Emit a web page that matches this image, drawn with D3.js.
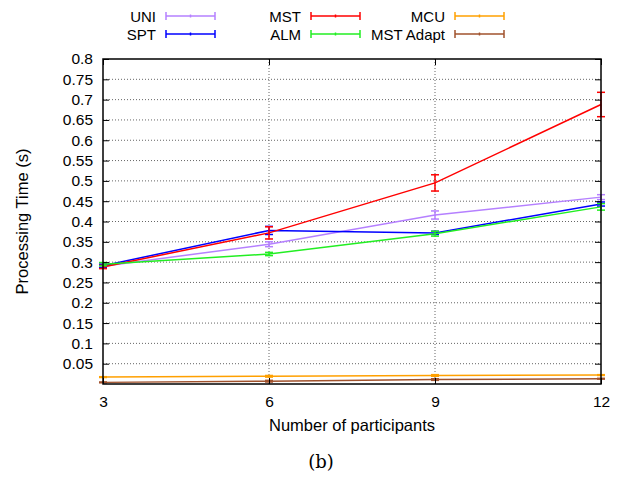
<!DOCTYPE html>
<html>
<head>
<meta charset="utf-8">
<script src="https://cdn.jsdelivr.net/npm/d3@7"></script>
<style>
  html, body { margin: 0; padding: 0; background: #fff; }
  svg { display: block; }
  text { font-family: "Liberation Sans", Arial, sans-serif; fill: #000; }
</style>
</head>
<body>
<svg id="chart" width="622" height="477"></svg>
<script>
// Number of participants
const participants = [3, 6, 9, 12];

// Mean processing time (s) per scheme
const uniValues      = [0.290, 0.344, 0.416, 0.460];
const sptValues      = [0.291, 0.378, 0.372, 0.443];
const mstValues      = [0.288, 0.372, 0.495, 0.688];
const almValues      = [0.295, 0.320, 0.370, 0.436];
const mcuValues      = [0.017, 0.019, 0.021, 0.022];
const mstAdaptValues = [0.004, 0.007, 0.011, 0.013];

// Error bar half-widths (s)
const uniErr      = [0.004, 0.006, 0.010, 0.006];
const sptErr      = [0.004, 0.010, 0.004, 0.005];
const mstErr      = [0.004, 0.015, 0.020, 0.030];
const almErr      = [0.004, 0.004, 0.006, 0.008];
const mcuErr      = [0.001, 0.002, 0.002, 0.001];
const mstAdaptErr = [0.001, 0.002, 0.002, 0.001];

const seriesNames  = ["UNI", "SPT", "MST", "ALM", "MCU", "MST Adapt"];
const seriesColors = ["#b580ff", "#0000ff", "#ff0000", "#22ee22", "#ffa000", "#a0522d"];

const yTickValues = [0.05, 0.1, 0.15, 0.2, 0.25, 0.3, 0.35, 0.4, 0.45, 0.5, 0.55, 0.6, 0.65, 0.7, 0.75, 0.8];
const xTickValues = [3, 6, 9, 12];

const series = [
  { name: seriesNames[0], color: seriesColors[0], values: uniValues, err: uniErr },
  { name: seriesNames[1], color: seriesColors[1], values: sptValues, err: sptErr },
  { name: seriesNames[2], color: seriesColors[2], values: mstValues, err: mstErr },
  { name: seriesNames[3], color: seriesColors[3], values: almValues, err: almErr },
  { name: seriesNames[4], color: seriesColors[4], values: mcuValues, err: mcuErr },
  { name: seriesNames[5], color: seriesColors[5], values: mstAdaptValues, err: mstAdaptErr }
];

const svg = d3.select("#chart");
const margin = { left: 103, right: 21, top: 59, bottom: 93 };
const W = 622, H = 477;
const x = d3.scaleLinear().domain([3, 12]).range([margin.left, W - margin.right]);
const y = d3.scaleLinear().domain([0, 0.8]).range([H - margin.bottom, margin.top]);

const plot = svg.append("g");

// Dotted grid
plot.append("g").selectAll("line").data(yTickValues.filter(v => v < 0.8)).join("line")
  .attr("x1", x(3)).attr("x2", x(12))
  .attr("y1", d => y(d)).attr("y2", d => y(d))
  .attr("stroke", "#666").attr("stroke-width", 1).attr("stroke-dasharray", "1,2");
plot.append("g").selectAll("line").data([6, 9]).join("line")
  .attr("x1", d => x(d)).attr("x2", d => x(d))
  .attr("y1", y(0)).attr("y2", y(0.8))
  .attr("stroke", "#666").attr("stroke-width", 1).attr("stroke-dasharray", "1,2");

// Axes with inward ticks, mirrored on opposite sides
const fmtY = d => String(+d.toFixed(2));
const yAxisL = d3.axisLeft(y).tickValues(yTickValues).tickSize(-6).tickPadding(10).tickFormat(fmtY);
const yAxisR = d3.axisRight(y).tickValues(yTickValues).tickSize(-6).tickFormat("");
const xAxisB = d3.axisBottom(x).tickValues(xTickValues).tickSize(-6).tickPadding(12).tickFormat(d3.format("d"));
const xAxisT = d3.axisTop(x).tickValues(xTickValues).tickSize(-6).tickFormat("");

function styleAxis(g) {
  g.select(".domain").remove();
  g.selectAll(".tick line").attr("stroke", "#000");
  g.selectAll(".tick text").style("font-size", "15.5px").style("font-family", "Liberation Sans, Arial, sans-serif");
}
svg.append("g").attr("transform", `translate(${x(3)},0)`).call(yAxisL).call(styleAxis);
svg.append("g").attr("transform", `translate(${x(12)},0)`).call(yAxisR).call(styleAxis);
svg.append("g").attr("transform", `translate(0,${y(0)})`).call(xAxisB).call(styleAxis);
svg.append("g").attr("transform", `translate(0,${y(0.8)})`).call(xAxisT).call(styleAxis);

// Series lines with error bars
const line = d3.line().x((d, i) => x(participants[i])).y(d => y(d));
series.forEach(s => {
  const g = plot.append("g");
  g.append("path").datum(s.values).attr("d", line)
    .attr("fill", "none").attr("stroke", s.color).attr("stroke-width", 1.5);
  const pts = s.values.map((v, i) => ({ px: participants[i], v, e: s.err[i] }));
  g.selectAll("line.eb").data(pts).join("line").attr("class", "eb")
    .attr("x1", d => x(d.px)).attr("x2", d => x(d.px))
    .attr("y1", d => y(d.v - d.e)).attr("y2", d => y(d.v + d.e))
    .attr("stroke", s.color).attr("stroke-width", 1.5);
  ["lo", "hi"].forEach(k => {
    g.selectAll("line.cap" + k).data(pts).join("line").attr("class", "cap" + k)
      .attr("x1", d => x(d.px) - 4).attr("x2", d => x(d.px) + 4)
      .attr("y1", d => y(k === "lo" ? d.v - d.e : d.v + d.e))
      .attr("y2", d => y(k === "lo" ? d.v - d.e : d.v + d.e))
      .attr("stroke", s.color).attr("stroke-width", 1.5);
  });
});

// Frame
svg.append("rect")
  .attr("x", x(3)).attr("y", y(0.8))
  .attr("width", x(12) - x(3)).attr("height", y(0) - y(0.8))
  .attr("fill", "none").attr("stroke", "#000").attr("stroke-width", 1.5);

// Legend: two rows, three columns
const legendCols = [156, 301, 445];
const legendRows = [16, 34];
const legendOrder = [0, 2, 4, 1, 3, 5];
legendOrder.forEach((si, k) => {
  const s = series[si];
  const col = k % 3, row = Math.floor(k / 3);
  const lx = legendCols[col], ly = legendRows[row];
  svg.append("text").attr("x", lx).attr("y", ly + 5.5)
    .attr("text-anchor", "end").style("font-size", "15px").text(s.name);
  const g = svg.append("g").attr("stroke", s.color).attr("stroke-width", 1.5);
  g.append("line").attr("x1", lx + 10).attr("x2", lx + 59).attr("y1", ly).attr("y2", ly);
  [lx + 10, lx + 34.5, lx + 59].forEach((tx, j) => {
    g.append("line").attr("x1", tx).attr("x2", tx)
      .attr("y1", ly - (j === 1 ? 1.5 : 4)).attr("y2", ly + (j === 1 ? 1.5 : 4));
  });
});

// Axis titles
svg.append("text").attr("transform", `translate(28,${(y(0) + y(0.8)) / 2}) rotate(-90)`)
  .attr("text-anchor", "middle").style("font-size", "16.5px").text("Processing Time (s)");
svg.append("text").attr("x", (x(3) + x(12)) / 2).attr("y", 431)
  .attr("text-anchor", "middle").style("font-size", "16.5px").text("Number of participants");

// Sub-figure caption
svg.append("text").attr("x", 321).attr("y", 468)
  .attr("text-anchor", "middle").style("font-family", "'DejaVu Serif', 'Liberation Serif', serif")
  .style("font-size", "18px").text("(b)");
</script>
</body>
</html>
